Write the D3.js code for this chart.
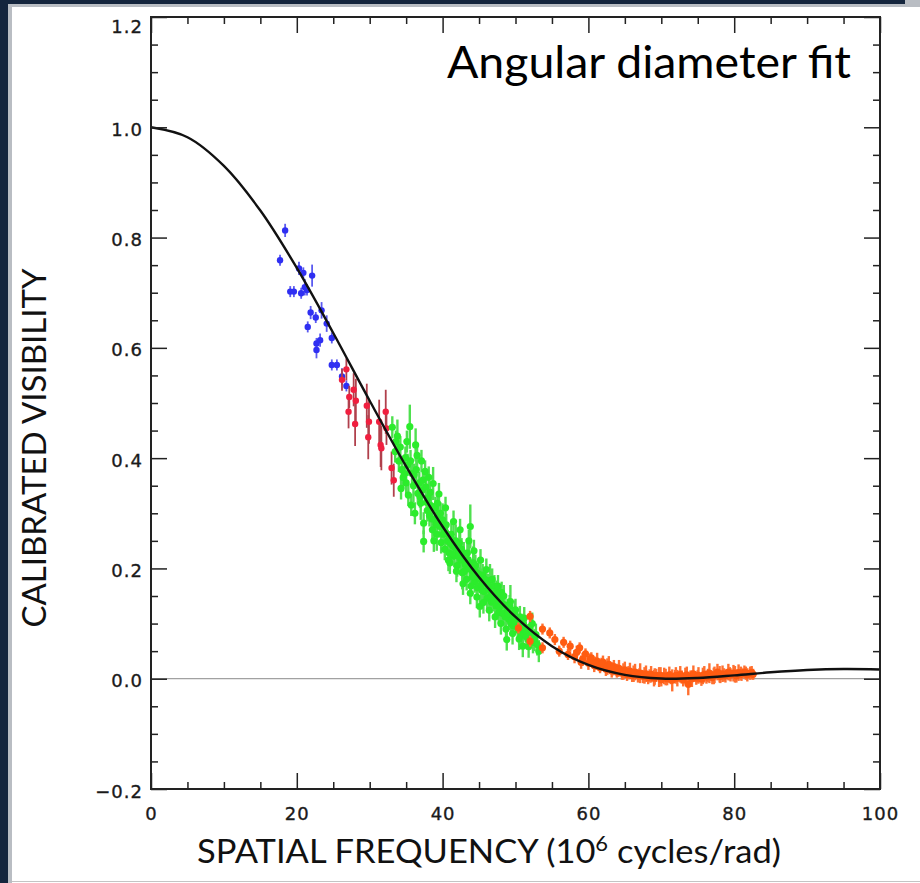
<!DOCTYPE html>
<html>
<head>
<meta charset="utf-8">
<script src="https://cdn.jsdelivr.net/npm/d3@7"></script>
<style>
  body { margin: 0; background: #14253d; }
  svg { display: block; }
</style>
</head>
<body>
<div id="chart"></div>
<script>
// fitted model, every 5 units of spatial frequency
const fitU = [0, 5, 10, 15, 20, 25, 30, 35, 40, 45, 50, 55, 60, 65, 70, 75, 80, 85, 90, 95, 100];
const fitV = [1.0, 0.982, 0.930, 0.849, 0.745, 0.627, 0.504, 0.385, 0.276, 0.184, 0.112, 0.059,
              0.025, 0.007, 0.0003, 0.0013, 0.006, 0.0116, 0.0157, 0.0175, 0.0167];

// [spatial frequency, visibility, error]
const blueData = [
  [18.4, 0.813, 0.012], [17.7, 0.759, 0.010], [20.3, 0.744, 0.012], [20.9, 0.736, 0.010],
  [22.1, 0.731, 0.020], [19.1, 0.702, 0.010], [19.6, 0.702, 0.010], [20.6, 0.699, 0.010],
  [21.1, 0.710, 0.015], [21.4, 0.705, 0.010], [21.9, 0.664, 0.012], [22.6, 0.655, 0.010],
  [23.4, 0.668, 0.015], [21.5, 0.638, 0.010], [24.1, 0.644, 0.015], [23.2, 0.614, 0.012],
  [22.7, 0.608, 0.010], [22.7, 0.596, 0.015], [24.8, 0.618, 0.010], [24.8, 0.569, 0.010],
  [25.5, 0.569, 0.010], [26.2, 0.548, 0.015], [26.8, 0.531, 0.010]
];

const redData = [
  [26.2, 0.542, 0.020], [26.8, 0.561, 0.020], [27.8, 0.524, 0.030], [27.2, 0.511, 0.020],
  [28.1, 0.504, 0.040], [27.1, 0.484, 0.030], [29.6, 0.495, 0.040], [28.0, 0.462, 0.040],
  [29.9, 0.466, 0.040], [32.2, 0.484, 0.040], [31.3, 0.466, 0.040], [32.3, 0.454, 0.030],
  [29.8, 0.438, 0.040], [31.5, 0.424, 0.040], [31.6, 0.418, 0.040], [33.0, 0.382, 0.030],
  [33.3, 0.360, 0.030]
];

const greenData = [
  [33.1, 0.456, 0.02], [33.5, 0.412, 0.02], [33.8, 0.440, 0.03], [34.2, 0.420, 0.02],
  [34.4, 0.379, 0.02], [34.6, 0.365, 0.02], [34.9, 0.401, 0.02], [35.2, 0.388, 0.02],
  [35.3, 0.333, 0.02], [35.5, 0.457, 0.04], [35.8, 0.372, 0.02], [36.0, 0.350, 0.03],
  [36.3, 0.424, 0.03], [36.4, 0.379, 0.02], [36.6, 0.336, 0.02], [36.8, 0.355, 0.02],
  [37.0, 0.318, 0.03], [37.2, 0.342, 0.02], [37.4, 0.282, 0.02], [37.4, 0.249, 0.02],
  [37.6, 0.376, 0.02], [37.7, 0.348, 0.02], [37.9, 0.305, 0.02], [38.0, 0.328, 0.02],
  [38.2, 0.296, 0.02], [38.4, 0.314, 0.03], [38.6, 0.270, 0.02], [38.7, 0.354, 0.03],
  [38.9, 0.289, 0.02], [39.0, 0.310, 0.02], [39.2, 0.262, 0.03], [39.4, 0.298, 0.02],
  [39.6, 0.276, 0.02], [39.8, 0.247, 0.02], [40.0, 0.288, 0.03], [40.1, 0.262, 0.02],
  [40.3, 0.235, 0.02], [40.5, 0.279, 0.02], [40.7, 0.250, 0.02], [40.9, 0.228, 0.03],
  [41.0, 0.210, 0.02], [41.2, 0.262, 0.02], [41.4, 0.241, 0.02], [41.6, 0.222, 0.02],
  [41.8, 0.250, 0.03], [42.0, 0.205, 0.02], [42.1, 0.232, 0.02], [42.3, 0.246, 0.02],
  [42.5, 0.215, 0.02], [42.7, 0.192, 0.03], [42.9, 0.228, 0.02], [43.1, 0.207, 0.02],
  [43.3, 0.180, 0.02], [43.5, 0.216, 0.02], [43.8, 0.276, 0.04], [43.8, 0.155, 0.02],
  [44.0, 0.196, 0.02], [44.2, 0.210, 0.03], [44.4, 0.176, 0.02], [44.6, 0.193, 0.02],
  [44.8, 0.165, 0.02], [45.0, 0.182, 0.02], [45.1, 0.131, 0.02], [45.3, 0.170, 0.03],
  [45.5, 0.188, 0.02], [45.7, 0.158, 0.02], [45.9, 0.174, 0.02], [46.1, 0.146, 0.02],
  [46.3, 0.162, 0.02], [46.5, 0.178, 0.03], [46.7, 0.139, 0.02], [46.9, 0.155, 0.02],
  [47.1, 0.168, 0.02], [47.3, 0.132, 0.02], [47.5, 0.148, 0.02], [47.7, 0.120, 0.02],
  [47.9, 0.142, 0.03], [48.1, 0.156, 0.02], [48.3, 0.118, 0.02], [48.5, 0.134, 0.02],
  [48.8, 0.071, 0.02], [48.9, 0.125, 0.02], [49.1, 0.108, 0.02], [49.3, 0.140, 0.03],
  [49.5, 0.115, 0.02], [49.7, 0.096, 0.02], [49.9, 0.122, 0.02], [50.2, 0.104, 0.02],
  [50.4, 0.088, 0.02], [50.6, 0.112, 0.02], [50.8, 0.079, 0.02], [51.0, 0.059, 0.02],
  [51.1, 0.098, 0.02], [51.4, 0.086, 0.02], [51.7, 0.072, 0.02], [52.0, 0.094, 0.02],
  [52.4, 0.066, 0.02], [52.8, 0.080, 0.02],
  [33.6, 0.430, 0.02], [34.0, 0.395, 0.02], [34.8, 0.372, 0.02], [35.0, 0.355, 0.02],
  [35.6, 0.395, 0.02], [36.1, 0.370, 0.02], [36.9, 0.330, 0.02], [37.3, 0.360, 0.02],
  [37.8, 0.320, 0.02], [38.3, 0.338, 0.02], [38.5, 0.290, 0.02], [39.1, 0.280, 0.02],
  [39.3, 0.318, 0.02], [39.7, 0.300, 0.02], [40.2, 0.270, 0.02], [40.6, 0.262, 0.02],
  [41.1, 0.245, 0.02], [41.3, 0.226, 0.02], [41.7, 0.238, 0.02], [42.2, 0.222, 0.02],
  [42.6, 0.235, 0.02], [43.0, 0.195, 0.02], [43.4, 0.228, 0.02], [43.7, 0.200, 0.02],
  [44.1, 0.185, 0.02], [44.5, 0.205, 0.02], [44.9, 0.190, 0.02], [45.4, 0.160, 0.02],
  [45.8, 0.180, 0.02], [46.2, 0.170, 0.02], [46.6, 0.150, 0.02], [47.0, 0.142, 0.02],
  [47.4, 0.158, 0.02], [47.8, 0.130, 0.02], [48.2, 0.135, 0.02], [48.6, 0.112, 0.02],
  [49.0, 0.118, 0.02], [49.4, 0.100, 0.02], [49.8, 0.108, 0.02], [50.3, 0.094, 0.02],
  [50.9, 0.090, 0.02], [51.5, 0.076, 0.02], [52.2, 0.082, 0.02], [52.6, 0.070, 0.02],
  [53.0, 0.062, 0.02],
  [34.3, 0.345, 0.02], [35.7, 0.315, 0.02], [36.2, 0.300, 0.02], [37.1, 0.395, 0.02],
  [38.1, 0.365, 0.02], [38.8, 0.250, 0.02], [39.5, 0.335, 0.02], [40.4, 0.310, 0.02],
  [40.8, 0.215, 0.02], [41.5, 0.285, 0.02], [41.9, 0.195, 0.02], [42.4, 0.270, 0.02],
  [42.8, 0.172, 0.02], [43.6, 0.250, 0.02], [43.9, 0.168, 0.02], [44.3, 0.232, 0.02],
  [44.7, 0.148, 0.02], [45.2, 0.215, 0.02], [45.6, 0.138, 0.02], [46.0, 0.198, 0.02],
  [46.4, 0.124, 0.02], [46.8, 0.180, 0.02], [47.2, 0.112, 0.02], [47.6, 0.168, 0.02],
  [48.0, 0.100, 0.02], [48.4, 0.150, 0.02], [48.7, 0.090, 0.02], [49.2, 0.132, 0.02],
  [49.6, 0.082, 0.02], [50.0, 0.125, 0.02], [50.5, 0.072, 0.02], [51.2, 0.110, 0.02],
  [51.8, 0.058, 0.02], [52.3, 0.100, 0.02], [53.2, 0.050, 0.02], [36.5, 0.405, 0.02],
  [35.1, 0.430, 0.02]
];

const orangeData = [
  [50.4, 0.092, 0.010], [52.0, 0.113, 0.010], [52.0, 0.068, 0.010], [53.7, 0.090, 0.010],
  [53.7, 0.056, 0.010], [54.7, 0.083, 0.010], [55.4, 0.071, 0.010], [56.0, 0.050, 0.010],
  [56.6, 0.066, 0.010], [57.2, 0.044, 0.010], [57.5, 0.059, 0.010], [58.1, 0.040, 0.012],
  [58.8, 0.056, 0.010], [59.2, 0.035, 0.012], [59.6, 0.045, 0.010], [60.0, 0.028, 0.012],
  [60.4, 0.038, 0.010], [60.8, 0.024, 0.012], [61.2, 0.032, 0.015], [61.6, 0.020, 0.010],
  [62.0, 0.030, 0.012], [62.4, 0.017, 0.012], [62.8, 0.026, 0.015], [63.2, 0.014, 0.012],
  [63.5, 0.022, 0.012], [63.9, 0.012, 0.010], [64.2, 0.019, 0.015], [64.6, 0.010, 0.012],
  [65.0, 0.016, 0.015], [65.3, 0.008, 0.012], [65.7, 0.014, 0.015], [66.0, 0.006, 0.012],
  [66.4, 0.012, 0.015], [66.8, 0.005, 0.012], [67.1, 0.010, 0.018], [67.5, 0.004, 0.012],
  [67.9, 0.009, 0.015], [68.2, 0.002, 0.012], [68.6, 0.008, 0.015], [69.0, 0.001, 0.015],
  [69.3, 0.006, 0.012], [69.7, 0.003, 0.018], [70.0, -0.002, 0.012], [70.4, 0.005, 0.015],
  [70.8, 0.000, 0.012], [71.1, 0.007, 0.015], [71.5, -0.003, 0.020], [71.9, 0.004, 0.012],
  [72.2, 0.001, 0.015], [72.6, 0.008, 0.015], [73.0, -0.002, 0.012], [73.3, 0.005, 0.015],
  [73.7, -0.010, 0.020], [74.0, 0.003, 0.012], [74.4, 0.009, 0.015], [74.8, 0.001, 0.012],
  [75.1, 0.006, 0.015], [75.5, -0.001, 0.012], [75.9, 0.008, 0.015], [76.2, 0.003, 0.012],
  [76.6, 0.010, 0.018], [77.0, 0.002, 0.012], [77.3, 0.007, 0.015], [77.7, 0.012, 0.015],
  [78.1, 0.004, 0.012], [78.4, 0.009, 0.015], [78.8, 0.005, 0.012], [79.2, 0.012, 0.015],
  [79.5, 0.007, 0.012], [79.9, 0.010, 0.015], [80.3, 0.005, 0.012], [80.6, 0.011, 0.015],
  [81.0, 0.008, 0.012], [81.4, 0.012, 0.012], [81.8, 0.007, 0.012], [82.2, 0.010, 0.012],
  [82.6, 0.008, 0.010],
  [58.4, 0.048, 0.012], [59.0, 0.030, 0.012], [60.2, 0.034, 0.012], [61.0, 0.028, 0.012],
  [61.8, 0.026, 0.012], [62.6, 0.022, 0.015], [63.4, 0.018, 0.012], [64.0, 0.015, 0.012],
  [64.8, 0.013, 0.015], [65.5, 0.011, 0.012], [66.2, 0.009, 0.015], [67.0, 0.007, 0.012],
  [67.7, 0.006, 0.015], [68.4, 0.005, 0.012], [69.1, 0.004, 0.015], [69.9, 0.006, 0.015],
  [70.6, 0.003, 0.015], [71.3, 0.002, 0.012], [72.0, 0.006, 0.015], [72.8, 0.003, 0.012],
  [73.5, 0.007, 0.015], [74.2, 0.000, 0.015], [75.0, 0.004, 0.012], [75.7, 0.005, 0.015],
  [76.4, 0.006, 0.012], [77.2, 0.005, 0.015], [78.0, 0.008, 0.015], [78.6, 0.007, 0.012],
  [79.4, 0.009, 0.012], [80.1, 0.008, 0.015], [80.9, 0.010, 0.012], [81.6, 0.010, 0.012],
  [82.4, 0.011, 0.012]
];

const xTicks = [0, 20, 40, 60, 80, 100];
const xMinor = d3.range(0, 101, 5).filter(d => d % 20 !== 0);
const yTicks = [-0.2, 0.0, 0.2, 0.4, 0.6, 0.8, 1.0, 1.2];
const yMinor = d3.range(-0.2, 1.2001, 0.05).filter(d => Math.abs(Math.round(d * 5) - d * 5) > 0.01);

const width = 920, height = 883;
const plot = { left: 151, right: 880, top: 17, bottom: 789 };

const svg = d3.select("#chart").append("svg")
  .attr("width", width)
  .attr("height", height);

// slide background
svg.append("rect").attr("x", 0).attr("y", 0).attr("width", width).attr("height", height).attr("fill", "#14253d");
svg.append("rect").attr("x", 8).attr("y", 4).attr("width", width - 8).attr("height", height - 4).attr("fill", "#b9bdc3");
svg.append("rect").attr("x", 905).attr("y", 0).attr("width", 15).attr("height", 7).attr("fill", "#b9bdc3");
svg.append("rect").attr("x", 12).attr("y", 7).attr("width", width - 12).attr("height", height - 7).attr("fill", "#ffffff");
svg.append("line").attr("x1", 12).attr("x2", width).attr("y1", 881.5).attr("y2", 881.5)
  .attr("stroke", "#c4c4c4").attr("stroke-width", 1);

const x = d3.scaleLinear().domain([0, 100]).range([plot.left, plot.right]);
const y = d3.scaleLinear().domain([-0.2, 1.2]).range([plot.bottom, plot.top]);

svg.append("defs").append("clipPath").attr("id", "clip")
  .append("rect").attr("x", plot.left).attr("y", plot.top)
  .attr("width", plot.right - plot.left).attr("height", plot.bottom - plot.top);

// zero line
svg.append("line")
  .attr("x1", x(0)).attr("x2", x(100)).attr("y1", y(0)).attr("y2", y(0))
  .attr("stroke", "#8a8a8a").attr("stroke-width", 1);

// data with error bars
const series = [
  { data: blueData, color: "#2f2ff2", bar: "#5a5af0", r: 3.2, w: 1.8 },
  { data: redData, color: "#f01f3f", bar: "#b0404c", r: 3.2, w: 1.8 },
  { data: greenData, color: "#2cec2c", bar: "#4fe04f", r: 3.6, w: 2.4 },
  { data: orangeData, color: "#ff5c12", bar: "#ff7030", r: 3.6, w: 2.4 }
];

const marks = svg.append("g").attr("clip-path", "url(#clip)");

series.forEach(s => {
  const g = marks.append("g");
  g.selectAll(".err")
    .data(s.data)
    .enter()
    .append("line")
    .attr("class", "err")
    .attr("x1", d => x(d[0])).attr("x2", d => x(d[0]))
    .attr("y1", d => y(d[1] - d[2])).attr("y2", d => y(d[1] + d[2]))
    .attr("stroke", s.bar)
    .attr("stroke-width", s.w);
  g.selectAll(".pt")
    .data(s.data)
    .enter()
    .append("circle")
    .attr("class", "pt")
    .attr("cx", d => x(d[0]))
    .attr("cy", d => y(d[1]))
    .attr("r", s.r)
    .attr("fill", s.color);
});

// fitted curve
const fit = fitU.map((u, i) => [u, fitV[i]]);
marks.append("path")
  .datum(fit)
  .attr("fill", "none")
  .attr("stroke", "#111")
  .attr("stroke-width", 2.4)
  .attr("d", d3.line().x(d => x(d[0])).y(d => y(d[1])).curve(d3.curveCatmullRom));

// axes
const axisColor = "#222";
function styleAxis(g) {
  g.select(".domain").remove();
  g.selectAll(".tick line").attr("stroke", axisColor).attr("stroke-width", 1.5);
  g.selectAll(".tick text")
    .attr("fill", "#1a1a1a")
    .attr("stroke", "#1a1a1a")
    .attr("stroke-width", 0.35)
    .attr("font-family", "DejaVu Sans, sans-serif")
    .attr("font-size", "18px")
    .attr("letter-spacing", "1px");
}

svg.append("g").attr("transform", `translate(0,${plot.bottom})`)
  .call(d3.axisBottom(x).tickValues(xTicks).tickSize(-16).tickPadding(18).tickFormat(d3.format("d")))
  .call(styleAxis);
svg.append("g").attr("transform", `translate(0,${plot.bottom})`)
  .call(d3.axisBottom(x).tickValues(xMinor).tickSize(-7).tickFormat(""))
  .call(styleAxis);
svg.append("g").attr("transform", `translate(0,${plot.top})`)
  .call(d3.axisTop(x).tickValues(xTicks).tickSize(-16).tickFormat(""))
  .call(styleAxis);
svg.append("g").attr("transform", `translate(0,${plot.top})`)
  .call(d3.axisTop(x).tickValues(xMinor).tickSize(-7).tickFormat(""))
  .call(styleAxis);

const yLeft = svg.append("g").attr("transform", `translate(${plot.left},0)`)
  .call(d3.axisLeft(y).tickValues(yTicks).tickSize(-16).tickPadding(8).tickFormat(d3.format(".1f")))
  .call(styleAxis);
yLeft.selectAll(".tick text")
  .text(d => d3.format(".1f")(d).replace("-", "\u2212"))
  .attr("dy", d => d === 1.2 ? "0.85em" : "0.45em");
svg.append("g").attr("transform", `translate(${plot.left},0)`)
  .call(d3.axisLeft(y).tickValues(yMinor).tickSize(-7).tickFormat(""))
  .call(styleAxis);
svg.append("g").attr("transform", `translate(${plot.right},0)`)
  .call(d3.axisRight(y).tickValues(yTicks).tickSize(-16).tickFormat(""))
  .call(styleAxis);
svg.append("g").attr("transform", `translate(${plot.right},0)`)
  .call(d3.axisRight(y).tickValues(yMinor).tickSize(-7).tickFormat(""))
  .call(styleAxis);

// frame
svg.append("rect")
  .attr("x", plot.left).attr("y", plot.top)
  .attr("width", plot.right - plot.left).attr("height", plot.bottom - plot.top)
  .attr("fill", "none")
  .attr("stroke", axisColor)
  .attr("stroke-width", 2);

// titles
svg.append("text")
  .attr("x", 447).attr("y", 78)
  .attr("font-family", "Lato, 'Open Sans', sans-serif")
  .attr("font-size", "44px")
  .attr("fill", "#000")
  .attr("textLength", 404)
  .attr("lengthAdjust", "spacingAndGlyphs")
  .text("Angular diameter fit");

const xTitle = svg.append("text")
  .attr("x", 197).attr("y", 863)
  .attr("font-family", "Lato, 'Open Sans', sans-serif")
  .attr("font-size", "33px")
  .attr("fill", "#111")
  .attr("textLength", 584)
  .attr("lengthAdjust", "spacingAndGlyphs");
xTitle.append("tspan").text("SPATIAL FREQUENCY (10");
xTitle.append("tspan").attr("font-size", "21px").attr("dy", "-12").text("6");
xTitle.append("tspan").attr("dy", "12").text(" cycles/rad)");

svg.append("text")
  .attr("transform", "translate(46,448) rotate(-90)")
  .attr("text-anchor", "middle")
  .attr("font-family", "Lato, 'Open Sans', sans-serif")
  .attr("font-size", "33px")
  .attr("fill", "#111")
  .text("CALIBRATED VISIBILITY");
</script>
</body>
</html>
